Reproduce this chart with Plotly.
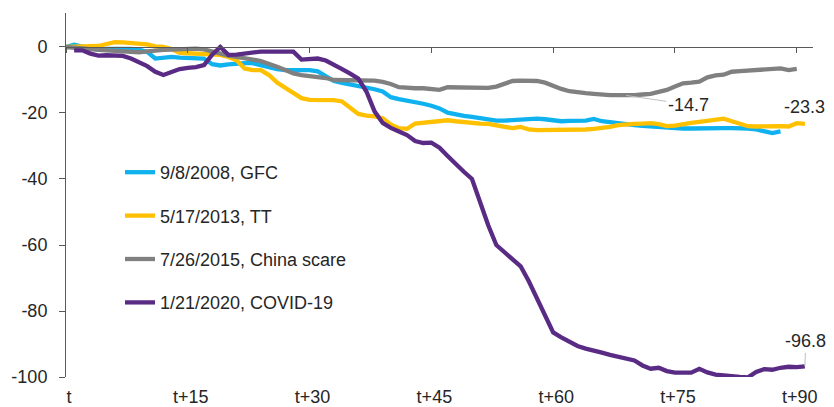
import plotly.graph_objects as go

# ---------------- data ----------------
days = list(range(0, 93))
tick_vals = [0, 15, 30, 45, 60, 75, 90]
tick_text = ["t", "t+15", "t+30", "t+45", "t+60", "t+75", "t+90"]
y_ticks = [-100, -80, -60, -40, -20, 0]
y_tick_text = ["-100", "-80", "-60", "-40", "-20", "0"]

names = ["9/8/2008, GFC", "5/17/2013, TT", "7/26/2015, China scare", "1/21/2020, COVID-19"]
colors = ["#0FB2EE", "#FFC000", "#808080", "#5A2B84"]

gfc = [0, 0.7, 0.1, -0.5, -0.8, -0.6, -0.5, -0.5, -0.6, -0.8,
       -1.5, -3.5, -3.3, -3.0, -3.2, -3.4, -3.4, -3.5, -5.2, -5.6,
       -5.3, -5.0, -4.9, -4.9, -5.6, -6.3, -6.7, -7.0, -7.0, -7.0,
       -7.0, -7.4, -8.8, -10.3, -10.9, -11.3, -11.8, -12.3, -12.8, -13.5,
       -15.2, -15.8, -16.2, -16.5, -17.2, -17.8, -18.6, -19.9, -20.5, -20.9,
       -21.2, -21.6, -21.9, -22.3, -22.3, -22.1, -22.0, -21.9, -21.7, -21.9,
       -22.2, -22.5, -22.4, -22.3, -22.3, -21.8, -22.5, -22.8, -23.2, -23.5,
       -23.7, -23.9, -24.1, -24.3, -24.5, -24.7, -24.7, -24.7, -24.6, -24.6,
       -24.6, -24.6, -24.6, -24.6, -24.7, -25.0, -25.6, -26.1, -25.6]

tt = [0, 0, 0, 0, 0.3, 0.9, 1.5, 1.4, 1.2, 1.0,
      0.8, 0.2, 0, -0.6, -1.8, -1.9, -2.0, -2.1, -2.2, -2.4,
      -3.0, -4.0, -6.5, -7.0, -7.0, -8.5, -10.8, -12.3, -13.7, -15.5,
      -16.0, -16.0, -16.0, -16.1, -16.5, -18.3, -20.3, -20.8, -21.0, -21.6,
      -23.5, -24.6, -24.8, -23.2, -22.9, -22.9, -22.4, -22.2, -22.5, -22.8,
      -23.0, -23.2, -23.3, -23.8, -24.3, -24.6, -24.2, -25.0, -25.2, -25.2,
      -25.2, -25.2, -25.2, -25.2, -25.0, -24.8, -24.6, -24.2, -23.7, -23.4,
      -23.3, -23.2, -23.1, -23.4, -24.0, -23.8, -23.3, -23.0, -22.7, -22.4,
      -22.1, -21.7, -22.5, -23.3, -24.0, -24.1, -24.0, -24.0, -24.0, -24.1,
      -23.1, -23.3]

china = [0, -0.3, -0.6, -0.9, -0.9, -1.0, -1.2, -1.4, -1.5, -1.6,
         -1.3, -1.0, -0.9, -0.8, -0.6, -0.5, -0.5, -0.7, -1.4, -2.0,
         -2.6, -3.0, -3.3, -3.8, -4.3, -5.0, -6.0, -7.0, -8.0, -8.5,
         -8.8, -9.0, -9.4, -10.0, -10.0, -10.0, -10.0, -10.0, -10.2, -10.6,
         -11.2, -12.2, -12.5, -12.5, -12.5, -12.8, -13.0, -12.2, -12.2, -12.5,
         -12.5, -12.5, -12.4, -12.0, -11.2, -10.3, -10.2, -10.2, -10.3, -10.8,
         -11.8, -12.7, -13.4, -13.8, -14.0, -14.2, -14.5, -14.6, -14.6, -14.7,
         -14.6, -14.4, -14.2, -13.6, -13.0, -12.0, -11.0, -10.8, -10.5, -9.2,
         -8.6, -8.4, -7.5, -7.3, -7.2, -7.0, -7.0, -6.7, -6.5, -7.0,
         -6.6]

covid = [None, -1.0, -1.0, -2.0, -2.6, -2.5, -2.6, -2.7, -3.5, -4.6,
         -5.8, -7.5, -8.5, -7.6, -6.7, -6.3, -6.1, -5.5, -2.3, 0.0,
         -2.4, -2.3, -2.0, -1.5, -1.4, -1.4, -1.4, -1.4, -1.4, -3.8,
         -3.6, -3.5, -4.1, -5.3, -6.7, -8.1, -9.6, -13.5, -19.5, -23.0,
         -24.5, -25.6, -26.7, -28.5, -29.1, -29.0, -30.5, -33.0, -35.5, -37.8,
         -40.0, -47.0, -54.0, -60.0, -62.3, -64.3, -66.5, -71.0, -76.0, -81.5,
         -86.5, -88.0, -89.3, -90.6, -91.4, -91.9, -92.6, -93.3, -93.9, -94.5,
         -95.0, -96.5, -97.5, -97.2, -98.2, -98.7, -98.7, -98.7, -97.5, -98.6,
         -99.3, -99.6, -99.9, -100.0, -100.1, -98.5, -97.6, -97.8, -97.2, -96.9,
         -97.0, -96.8]

series = [gfc, tt, china, covid]

# labelled points: (series index, day, text)
labels = [(2, 69, "-14.7"), (1, 91, "-23.3"), (3, 91, "-96.8")]

# ---------------- figure ----------------
FONT = "Liberation Sans, Arial, sans-serif"
TXT = "#262626"
AX = "#595959"

fig = go.Figure()
for name, vals, col in zip(names, series, colors):
    fig.add_trace(go.Scatter(
        x=days[:len(vals)], y=vals, mode="lines", name=name,
        legendgroup=name,
        line=dict(color=col, width=4.3), connectgaps=False,
        hoverinfo="skip",
    ))

# helper trace so the zero-line axis is drawn
fig.add_trace(go.Scatter(x=[None], y=[None], xaxis="x2", yaxis="y",
                         showlegend=False, hoverinfo="skip"))

y_lo, y_hi = -100, 10.3
# page body adds an 8px offset, so the figure is 8px smaller than the window
W, H = 826, 399
L, R, T, B = 58, 21, 5, 30
PW = W - L - R
PH = H - T - B

fig.update_layout(
    width=W, height=H,
    margin=dict(l=L, r=R, t=T, b=B, autoexpand=False),
    paper_bgcolor="white", plot_bgcolor="white",
    font=dict(family=FONT, size=18, color=TXT),
    showlegend=True,
    legend=dict(
        x=(112 - L) / PW, xref="paper", xanchor="left",
        y=1 - (146 - T) / PH, yref="paper", yanchor="top",
        bgcolor="rgba(0,0,0,0)", borderwidth=0,
        tracegroupgap=17, font=dict(size=18, color=TXT, family=FONT),
    ),
    xaxis=dict(
        range=[0, 92], tickmode="array", tickvals=tick_vals, ticktext=tick_text,
        showline=False, showgrid=False, zeroline=False, ticks="",
        ticklabelstandoff=7, ticklabelshift=3, tickfont=dict(size=18, color=TXT),
    ),
    xaxis2=dict(
        overlaying="x", matches="x", anchor="free",
        position=(0 - y_lo) / (y_hi - y_lo),
        showline=True, linecolor=AX, linewidth=1,
        ticks="outside", ticklen=5, tickcolor=AX, tickwidth=1,
        tickmode="array", tickvals=tick_vals, showticklabels=False,
        showgrid=False, zeroline=False,
    ),
    yaxis=dict(
        range=[y_lo, y_hi], tickmode="array", tickvals=y_ticks, ticktext=y_tick_text,
        showline=True, linecolor=AX, linewidth=1,
        ticks="outside", ticklen=6, tickcolor=AX,
        showgrid=False, zeroline=False,
        ticklabelstandoff=8, tickfont=dict(size=18, color=TXT),
    ),
)

# value labels
offsets = {"-14.7": (62, 9, True), "-23.3": (0, -17, False), "-96.8": (1, -25, True)}
for si, d, txt in labels:
    ax, ay, arrow = offsets[txt]
    fig.add_annotation(
        x=d, y=series[si][d], xref="x", yref="y", text=txt,
        showarrow=arrow, arrowhead=0, arrowwidth=1, arrowcolor="#BFBFBF",
        ax=ax if arrow else 0, ay=ay if arrow else 0,
        xshift=0 if arrow else ax, yshift=0 if arrow else -ay,
        font=dict(size=18, color=TXT, family=FONT),
    )

fig.write_html("out.html")
